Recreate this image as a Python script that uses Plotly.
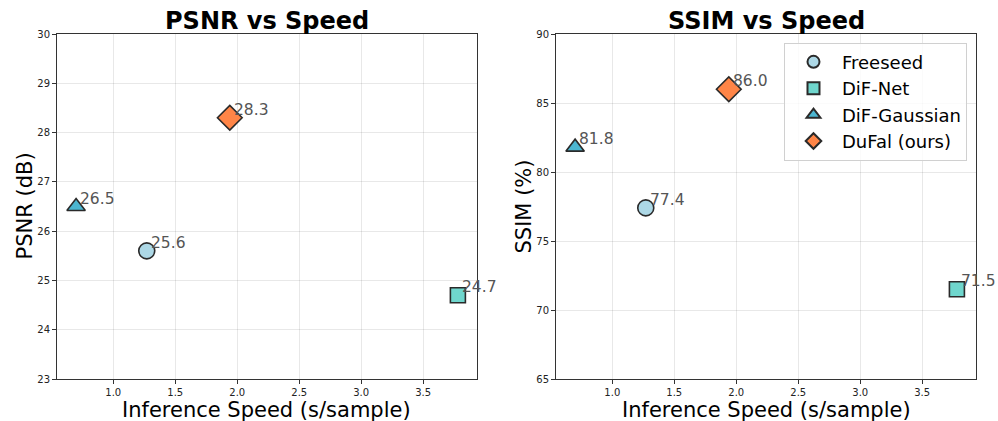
import plotly.graph_objects as go

methods = ["Freeseed", "DiF-Net", "DiF-Gaussian", "DuFal (ours)"]
speed = [1.27, 3.78, 0.70, 1.94]
psnr = [25.6, 24.7, 26.5, 28.3]
ssim = [77.4, 71.5, 81.8, 86.0]
psnr_ticks = [23, 24, 25, 26, 27, 28, 29, 30]
ssim_ticks = [65, 70, 75, 80, 85, 90]
x_ticks = [1.0, 1.5, 2.0, 2.5, 3.0, 3.5]

colors = ["#ADD8E6", "#6FD6CD", "#4BB6D1", "#FF8547"]
symbols = ["circle", "square", "triangle-up", "diamond"]
sizes = [16, 15, 16, 19]

FONT = "DejaVu Sans"
fig = go.Figure()

for i, m in enumerate(methods):
    for j, (vals, xa, ya) in enumerate([(psnr, "x", "y"), (ssim, "x2", "y2")]):
        fig.add_trace(go.Scatter(
            x=[speed[i]], y=[vals[i]], mode="markers", name=m,
            xaxis=xa, yaxis=ya, showlegend=(j == 1),
            marker=dict(symbol=symbols[i], size=sizes[i], color=colors[i],
                        line=dict(color="#2a2a2a", width=1.6)),
        ))

ann = []
for i in range(len(methods)):
    ann.append(dict(x=speed[i], y=psnr[i], xref="x", yref="y", text=f"{psnr[i]:.1f}",
                    showarrow=False, xanchor="left", yanchor="bottom", xshift=2, yshift=-3,
                    font=dict(family=FONT, size=15.5, color="#555555")))
    ann.append(dict(x=speed[i], y=ssim[i], xref="x2", yref="y2", text=f"{ssim[i]:.1f}",
                    showarrow=False, xanchor="left", yanchor="bottom", xshift=2, yshift=-3,
                    font=dict(family=FONT, size=15.5, color="#555555")))

dom1 = [0, 0.457]
dom2 = [0.543, 1]
titles = [("<b>PSNR vs Speed</b>", dom1, "PSNR (dB)"), ("<b>SSIM vs Speed</b>", dom2, "SSIM (%)")]
for t, dom, ytitle in titles:
    cx = (dom[0] + dom[1]) / 2
    ann.append(dict(x=cx, y=1.0, xref="paper", yref="paper", text=t,
                    showarrow=False, xanchor="center", yanchor="bottom", yshift=-3,
                    font=dict(family=FONT, size=24, color="black")))
    ann.append(dict(x=cx, y=0, xref="paper", yref="paper", text="Inference Speed (s/sample)",
                    showarrow=False, xanchor="center", yanchor="middle", yshift=-31,
                    font=dict(family=FONT, size=21, color="black")))
    ann.append(dict(x=dom[0], y=0.5, xref="paper", yref="paper", text=ytitle, textangle=-90,
                    showarrow=False, xanchor="center", yanchor="middle", xshift=-33,
                    font=dict(family=FONT, size=21, color="black")))

axis_common = dict(showline=True, mirror=True, linecolor="#333333", linewidth=1,
                   ticks="outside", ticklen=4, tickcolor="#333333", tickwidth=1,
                   showgrid=True, gridcolor="rgba(0,0,0,0.09)", gridwidth=1,
                   zeroline=False, automargin=False,
                   tickfont=dict(family=FONT, size=10, color="#222222"))

xr = [0.546, 3.934]
xtt = [f"{v:.1f}" for v in x_ticks]
fig.update_layout(
    width=998, height=421,
    margin=dict(l=57, r=22, t=34, b=42),
    paper_bgcolor="white", plot_bgcolor="white",
    font=dict(family=FONT),
    annotations=ann,
    xaxis=dict(domain=dom1, range=xr, tickvals=x_ticks, ticktext=xtt, **axis_common),
    yaxis=dict(range=[23, 30], tickvals=psnr_ticks, **axis_common),
    xaxis2=dict(domain=dom2, range=xr, anchor="y2", tickvals=x_ticks, ticktext=xtt, **axis_common),
    yaxis2=dict(range=[65, 90], anchor="x2", tickvals=ssim_ticks, **axis_common),
    legend=dict(x=0.9902, y=0.975, xanchor="right", yanchor="top",
                bgcolor="rgba(255,255,255,0.8)", bordercolor="#d0d0d0", borderwidth=1,
                font=dict(family=FONT, size=18, color="black"), tracegroupgap=4,
                itemsizing="constant", itemwidth=47),
)

fig.write_html("out.html", config={"displayModeBar": False},
               post_script="document.body.style.margin='0';")
